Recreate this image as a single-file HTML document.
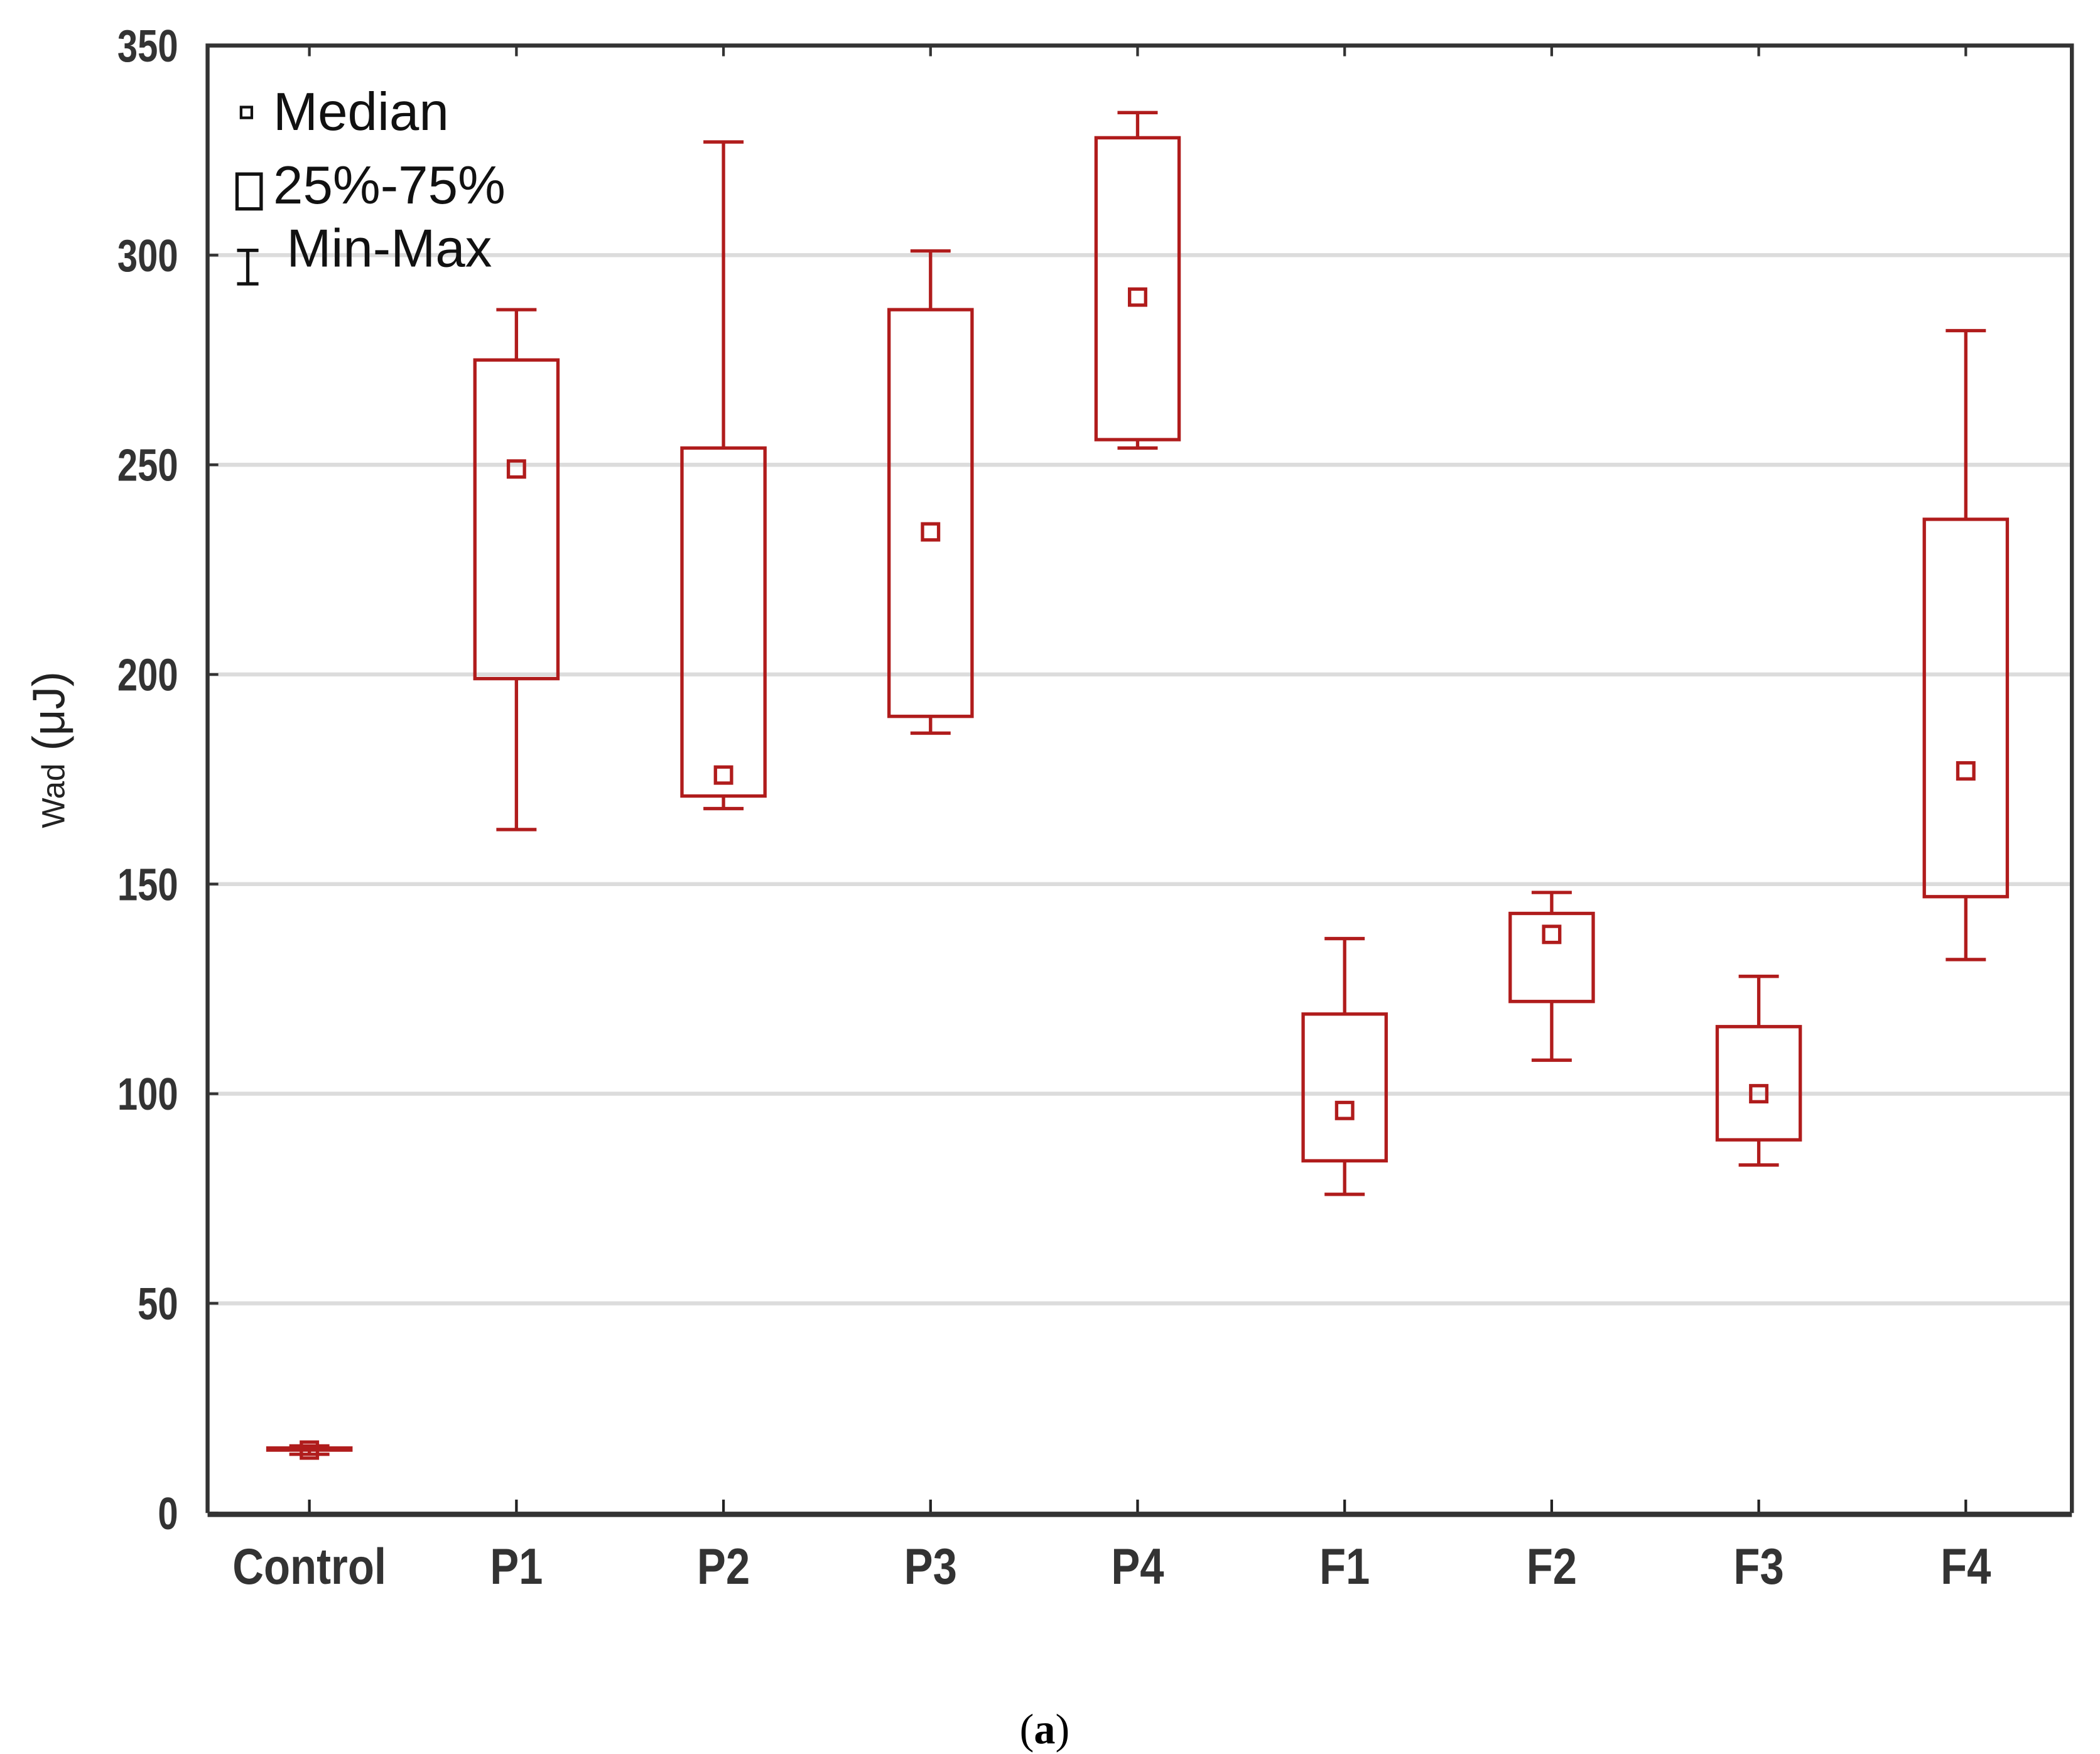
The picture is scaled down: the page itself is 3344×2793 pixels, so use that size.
<!DOCTYPE html>
<html><head><meta charset="utf-8"><style>
html,body{margin:0;padding:0;background:#fff;}
svg{display:block;}
</style></head><body>
<svg id="chart" width="3344" height="2793" viewBox="0 0 1568 1310" preserveAspectRatio="none" xmlns="http://www.w3.org/2000/svg">
<g id="grid"></g>
<g id="boxes"></g>
<g id="axes"></g>
<g id="legend">
  <rect x="180" y="80" width="8" height="8" fill="none" stroke="#111" stroke-width="2"/>
  <text x="204" y="97" font-family="Liberation Sans, sans-serif" font-size="40" fill="#111">Median</text>
  <rect x="177" y="130" width="18" height="26" fill="none" stroke="#111" stroke-width="2.5"/>
  <text x="204" y="152" font-family="Liberation Sans, sans-serif" font-size="40" fill="#111">25%-75%</text>
  <path d="M177 187H193M185 187V212M177 212H193" fill="none" stroke="#111" stroke-width="2.5"/>
  <text x="214" y="199" font-family="Liberation Sans, sans-serif" font-size="40" fill="#111">Min-Max</text>
</g>
<text transform="translate(48 560) rotate(-90)" text-anchor="middle" font-family="Liberation Sans, sans-serif" font-size="34" fill="#222"><tspan font-size="24">Wad</tspan> (μJ)</text>
<text x="780" y="1302" text-anchor="middle" font-family="Liberation Serif, serif" font-size="32" fill="#000">(<tspan font-weight="bold">a</tspan>)</text>
</svg>
<script>
const categories = ["Control","P1","P2","P3","P4","F1","F2","F3","F4"];
const minVals = [14,163,168,186,254,76,108,83,132];
const q1Vals = [15,199,171,190,256,84,122,89,147];
const medianVals = [15,249,176,234,290,96,138,100,177];
const q3Vals = [15.5,275,254,287,328,119,143,116,237];
const maxVals = [16,287,327,301,334,137,148,128,282];
const yTicks = [0,50,100,150,200,250,300,350];

const NS = "http://www.w3.org/2000/svg";
const L=155, R=1547, T=34, B=1130, YMAX=350;
const RED="#b01c1c";
function yScale(v){return B-(v/YMAX)*(B-T);}
function xScale(i){return 231+i*154.6;}
function mk(tag,attrs,parent){const e=document.createElementNS(NS,tag);for(const k in attrs)e.setAttribute(k,attrs[k]);parent.appendChild(e);return e;}
const grid=document.getElementById('grid'),boxes=document.getElementById('boxes'),axes=document.getElementById('axes');

yTicks.forEach(t=>{
  const y=yScale(t);
  if(t>0&&t<YMAX){
    const g=mk('line',{x1:L,x2:R,y1:y,y2:y,stroke:'#dcdcdc','stroke-width':3},grid);
    
    
  }
  const tk=mk('line',{x1:L,x2:L+8,y1:y,y2:y,stroke:'#333','stroke-width':2},axes);
  
  
  const lb=mk('text',{x:133,y:y+12,'text-anchor':'end','font-family':'Liberation Sans, sans-serif','font-size':34,'font-weight':'bold',fill:'#333',transform:`translate(133 0) scale(0.8 1) translate(-133 0)`},axes);
  lb.textContent=t;
  
  
});

categories.forEach((c,i)=>{
  const x=xScale(i);
  const g=mk('g',{},boxes);
  
  
  const yMin=yScale(minVals[i]),yQ1=yScale(q1Vals[i]),yMed=yScale(medianVals[i]),yQ3=yScale(q3Vals[i]),yMax=yScale(maxVals[i]);
  const w=mk('path',{d:`M${x-15} ${yMax}H${x+15}M${x} ${yMax}V${yQ3}M${x} ${yQ1}V${yMin}M${x-15} ${yMin}H${x+15}`,fill:'none',stroke:RED,'stroke-width':2.5},g);
  
  
  const r=mk('rect',{x:x-31,y:yQ3,width:62,height:Math.max(yQ1-yQ3,1.5),fill:'none',stroke:RED,'stroke-width':2.5},g);
  
  
  const m=mk('rect',{x:x-6,y:yMed-6,width:12,height:12,fill:'none',stroke:RED,'stroke-width':2.5},g);
  
  
  const tb=mk('line',{x1:x,x2:x,y1:B,y2:B-10,stroke:'#222','stroke-width':2},axes);
  
  
  const tt=mk('line',{x1:x,x2:x,y1:T,y2:T+8,stroke:'#333','stroke-width':2},axes);
  
  
  const lb=mk('text',{x:x,y:1183,'text-anchor':'middle','font-family':'Liberation Sans, sans-serif','font-size':38,'font-weight':'bold',fill:'#333',transform:`translate(${x} 0) scale(0.85 1) translate(${-x} 0)`},axes);
  lb.textContent=c;
  
  
});

const fr=mk('path',{d:`M${L} ${B}V${T}H${R}V${B}`,fill:'none',stroke:'#333','stroke-width':3},axes);


const xa=mk('line',{x1:L,x2:R,y1:B+1,y2:B+1,stroke:'#333','stroke-width':4},axes);


</script>
</body></html>
